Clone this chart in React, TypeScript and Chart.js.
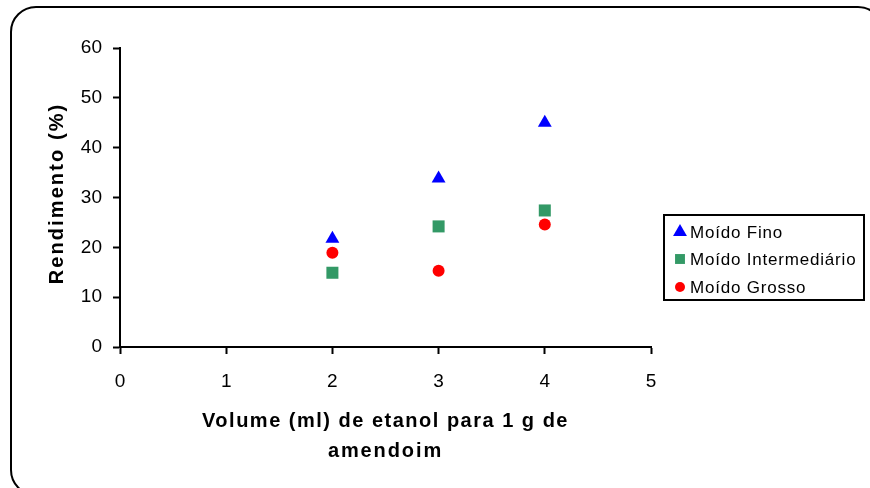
import React, { useEffect, useRef } from "react";
import { Chart, registerables } from "chart.js";

Chart.register(...registerables);

// Volume de etanol (ml por 1 g de amendoim)
const volumes = [2, 3, 4];

// Rendimento (%) por granulometria
const moidoFino = [21.7, 33.8, 45.0];
const moidoIntermediario = [14.9, 24.2, 27.4];
const moidoGrosso = [18.9, 15.3, 24.6];

const seriesLabels = ["Moído Fino", "Moído Intermediário", "Moído Grosso"];
const xTitle = ["Volume (ml) de etanol para 1 g de", "amendoim"];
const yTitle = "Rendimento (%)";

const FONT = "'Liberation Sans', Arial, sans-serif";

const toPoints = (ys: number[]) => volumes.map((x, i) => ({ x, y: ys[i] }));

// Rounded frame around the whole figure
const framePlugin = {
  id: "frame",
  beforeDraw(chart: any) {
    const { ctx } = chart;
    ctx.save();
    ctx.fillStyle = "#fff";
    ctx.fillRect(0, 0, chart.width, chart.height);
    ctx.beginPath();
    ctx.roundRect(11, 7, 872, 488, 25);
    ctx.lineWidth = 2;
    ctx.strokeStyle = "#000";
    ctx.stroke();
    ctx.restore();
  },
};

// Axis titles, drawn with the wide letter spacing of the original figure
const axisTitlesPlugin = {
  id: "axisTitles",
  afterDraw(chart: any) {
    const { ctx, chartArea } = chart;
    ctx.save();
    ctx.fillStyle = "#000";
    ctx.font = `bold 20px ${FONT}`;
    ctx.textAlign = "center";
    ctx.textBaseline = "middle";
    const cx = (chartArea.left + chartArea.right) / 2;
    (ctx as any).letterSpacing = "1.5px";
    ctx.fillText(xTitle[0], cx, 421);
    (ctx as any).letterSpacing = "1.9px";
    ctx.fillText(xTitle[1], cx, 451);
    const cy = (chartArea.top + chartArea.bottom) / 2;
    (ctx as any).letterSpacing = "2.1px";
    ctx.translate(57, cy - 4);
    ctx.rotate(-Math.PI / 2);
    ctx.fillText(yTitle, 0, 0);
    ctx.restore();
  },
};

function drawMarker(ctx: CanvasRenderingContext2D, style: string, r: number, x: number, y: number) {
  ctx.beginPath();
  if (style === "circle") {
    ctx.arc(x, y, r, 0, Math.PI * 2);
  } else if (style === "rect") {
    const s = r * Math.SQRT1_2;
    ctx.rect(x - s, y - s, 2 * s, 2 * s);
  } else {
    const h = r * 1.5;
    const w = r * Math.sqrt(3);
    ctx.moveTo(x, y - r);
    ctx.lineTo(x + w / 2, y - r + h);
    ctx.lineTo(x - w / 2, y - r + h);
    ctx.closePath();
  }
  ctx.fill();
}

// Boxed legend to the right of the plot
const legendBoxPlugin = {
  id: "legendBox",
  afterDraw(chart: any) {
    const { ctx } = chart;
    ctx.save();
    ctx.lineWidth = 2;
    ctx.strokeStyle = "#000";
    ctx.strokeRect(664, 215, 200, 85);
    const rowY = [232, 259, 287];
    const radius: Record<string, number> = { triangle: 8, rect: 7, circle: 5 };
    chart.data.datasets.forEach((ds: any, i: number) => {
      const y = rowY[i];
      ctx.fillStyle = ds.backgroundColor;
      drawMarker(ctx, ds.pointStyle, radius[ds.pointStyle], 680, y);
      ctx.fillStyle = "#000";
      ctx.font = `17px ${FONT}`;
      (ctx as any).letterSpacing = "0.8px";
      ctx.textBaseline = "middle";
      ctx.textAlign = "left";
      ctx.fillText(ds.label, 690, y + 1);
    });
    ctx.restore();
  },
};

export default function App() {
  const canvasRef = useRef<HTMLCanvasElement | null>(null);

  useEffect(() => {
    const canvas = canvasRef.current;
    if (!canvas) return;
    const chart = new Chart(canvas, {
      type: "scatter",
      data: {
        datasets: [
          {
            label: seriesLabels[0],
            data: toPoints(moidoFino),
            pointStyle: "triangle",
            pointRadius: 8,
            backgroundColor: "#0000ff",
            borderColor: "#0000ff",
            borderWidth: 0,
          },
          {
            label: seriesLabels[1],
            data: toPoints(moidoIntermediario),
            pointStyle: "rect",
            pointRadius: 8.5,
            backgroundColor: "#339966",
            borderColor: "#339966",
            borderWidth: 0,
          },
          {
            label: seriesLabels[2],
            data: toPoints(moidoGrosso),
            pointStyle: "circle",
            pointRadius: 6,
            backgroundColor: "#ff0000",
            borderColor: "#ff0000",
            borderWidth: 0,
          },
        ],
      },
      options: {
        responsive: false,
        animation: false,
        layout: { padding: { top: 48, right: 219, left: 0, bottom: 0 } },
        plugins: {
          legend: { display: false },
          tooltip: { enabled: false },
        },
        scales: {
          x: {
            type: "linear",
            min: 0,
            max: 5,
            afterFit: (s: any) => {
              s.height = 141;
            },
            ticks: {
              stepSize: 1,
              color: "#000",
              font: { family: FONT, size: 19 },
              padding: 16,
            },
            grid: {
              drawOnChartArea: false,
              drawTicks: true,
              tickLength: 7,
              tickColor: "#000",
              tickWidth: 2,
            },
            border: { color: "#000", width: 2 },
            title: { display: false },
          },
          y: {
            type: "linear",
            min: 0,
            max: 60,
            afterFit: (s: any) => {
              s.width = 120;
            },
            ticks: {
              stepSize: 10,
              color: "#000",
              font: { family: FONT, size: 19 },
              padding: 11,
            },
            grid: {
              drawOnChartArea: false,
              drawTicks: true,
              tickLength: 7,
              tickColor: "#000",
              tickWidth: 2,
            },
            border: { color: "#000", width: 2 },
            title: { display: false },
          },
        },
      },
      plugins: [framePlugin, axisTitlesPlugin, legendBoxPlugin],
    });
    return () => chart.destroy();
  }, []);

  return (
    <div style={{ position: "absolute", left: 0, top: 0, width: 870, height: 488 }}>
      <canvas ref={canvasRef} width={870} height={488} style={{ display: "block" }} />
    </div>
  );
}
